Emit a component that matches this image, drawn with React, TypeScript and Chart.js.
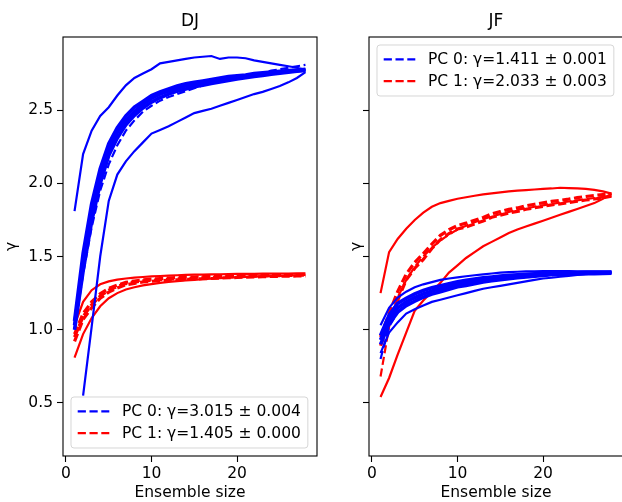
import React, { useEffect, useRef } from 'react';
import { Chart, registerables } from 'chart.js';

Chart.register(...registerables);

const FONT = "'DejaVu Sans', 'Liberation Sans', sans-serif";
const FS = 15.5;
const TITLE_FS = 17;

// ---------- data ----------
const ensembleSizes = [1, 2, 3, 4, 5, 6, 7, 8, 9, 10, 11, 12, 13, 14, 15, 16, 17, 18, 19, 20, 21, 22, 23, 24, 25, 26, 27, 28];
const xTicks = [0, 10, 20];
const yTicks = [0.5, 1.0, 1.5, 2.0, 2.5];

// DJ panel — PC 0 (blue)
const djBlueBandHi = [1.06, 1.52, 1.86, 2.1, 2.27, 2.38, 2.46, 2.52, 2.56, 2.6, 2.625, 2.645, 2.665, 2.68, 2.69, 2.7, 2.71, 2.72, 2.73, 2.735, 2.74, 2.75, 2.755, 2.76, 2.765, 2.77, 2.775, 2.78];
const djBlueBandMid = [1.03, 1.46, 1.8, 2.05, 2.23, 2.35, 2.43, 2.49, 2.54, 2.58, 2.61, 2.63, 2.65, 2.665, 2.675, 2.685, 2.695, 2.705, 2.715, 2.723, 2.73, 2.74, 2.745, 2.752, 2.758, 2.764, 2.77, 2.775];
const djBlueBandLo = [1.0, 1.4, 1.74, 2.0, 2.19, 2.31, 2.4, 2.465, 2.515, 2.555, 2.585, 2.61, 2.63, 2.645, 2.66, 2.67, 2.683, 2.693, 2.703, 2.713, 2.721, 2.731, 2.737, 2.746, 2.752, 2.76, 2.766, 2.771];
const djBlueUpper = [1.81, 2.2, 2.36, 2.46, 2.52, 2.6, 2.67, 2.72, 2.75, 2.78, 2.82, 2.83, 2.84, 2.85, 2.86, 2.865, 2.87, 2.85, 2.86, 2.86, 2.855, 2.84, 2.83, 2.82, 2.81, 2.8, 2.79, 2.775];
const djBlueLower = [null, 0.55, 1.02, 1.5, 1.88, 2.06, 2.15, 2.22, 2.28, 2.34, 2.365, 2.39, 2.42, 2.45, 2.48, 2.495, 2.51, 2.53, 2.55, 2.57, 2.59, 2.61, 2.625, 2.645, 2.665, 2.69, 2.72, 2.76];
const djBlueFit = [1.0, 1.38, 1.7, 1.95, 2.13, 2.26, 2.36, 2.43, 2.49, 2.53, 2.565, 2.59, 2.61, 2.63, 2.65, 2.67, 2.685, 2.7, 2.71, 2.72, 2.735, 2.745, 2.755, 2.77, 2.78, 2.79, 2.8, 2.81];

// DJ panel — PC 1 (red)
const djRedBandHi = [0.97, 1.11, 1.19, 1.245, 1.283, 1.305, 1.323, 1.333, 1.34, 1.345, 1.35, 1.353, 1.356, 1.358, 1.36, 1.362, 1.364, 1.366, 1.368, 1.369, 1.371, 1.372, 1.373, 1.374, 1.375, 1.376, 1.377, 1.378];
const djRedBandLo = [0.92, 1.07, 1.15, 1.215, 1.257, 1.285, 1.307, 1.317, 1.326, 1.331, 1.335, 1.338, 1.341, 1.343, 1.346, 1.348, 1.35, 1.353, 1.355, 1.357, 1.359, 1.36, 1.362, 1.364, 1.365, 1.366, 1.367, 1.368];
const djRedUpper = [1.03, 1.19, 1.27, 1.31, 1.33, 1.342, 1.35, 1.356, 1.36, 1.364, 1.367, 1.37, 1.372, 1.374, 1.376, 1.377, 1.378, 1.379, 1.38, 1.381, 1.382, 1.382, 1.383, 1.383, 1.384, 1.384, 1.385, 1.385];
const djRedLower = [0.81, 0.97, 1.08, 1.16, 1.215, 1.25, 1.275, 1.29, 1.303, 1.312, 1.32, 1.326, 1.332, 1.337, 1.341, 1.345, 1.349, 1.352, 1.355, 1.358, 1.36, 1.362, 1.364, 1.366, 1.368, 1.37, 1.372, 1.375];
const djRedFit = [0.95, 1.09, 1.17, 1.23, 1.27, 1.295, 1.315, 1.325, 1.333, 1.338, 1.342, 1.345, 1.348, 1.35, 1.353, 1.355, 1.357, 1.36, 1.362, 1.363, 1.365, 1.366, 1.368, 1.369, 1.37, 1.371, 1.372, 1.373];

// JF panel — PC 0 (blue)
const jfBlueBandHi = [0.96, 1.1, 1.18, 1.215, 1.245, 1.268, 1.287, 1.3, 1.314, 1.327, 1.337, 1.346, 1.354, 1.36, 1.366, 1.371, 1.375, 1.379, 1.382, 1.385, 1.387, 1.389, 1.39, 1.391, 1.392, 1.393, 1.393, 1.394];
const jfBlueBandMid = [0.93, 1.07, 1.15, 1.19, 1.22, 1.245, 1.265, 1.28, 1.295, 1.31, 1.32, 1.33, 1.34, 1.347, 1.354, 1.36, 1.365, 1.37, 1.374, 1.378, 1.381, 1.383, 1.385, 1.386, 1.387, 1.388, 1.389, 1.39];
const jfBlueBandLo = [0.9, 1.04, 1.12, 1.165, 1.195, 1.222, 1.243, 1.26, 1.276, 1.293, 1.303, 1.314, 1.326, 1.334, 1.342, 1.349, 1.355, 1.361, 1.366, 1.371, 1.375, 1.377, 1.38, 1.381, 1.382, 1.383, 1.385, 1.386];
const jfBlueUpper = [1.03, 1.15, 1.22, 1.26, 1.29, 1.31, 1.325, 1.34, 1.35, 1.358, 1.365, 1.372, 1.378, 1.384, 1.39, 1.394, 1.396, 1.398, 1.399, 1.4, 1.4, 1.4, 1.4, 1.399, 1.399, 1.398, 1.398, 1.397];
const jfBlueLower = [0.84, 0.98, 1.05, 1.11, 1.14, 1.165, 1.19, 1.205, 1.22, 1.235, 1.25, 1.265, 1.28, 1.29, 1.3, 1.31, 1.32, 1.33, 1.34, 1.35, 1.355, 1.362, 1.368, 1.374, 1.38, 1.384, 1.387, 1.389];
const jfBlueFit = [0.8, 1.02, 1.12, 1.18, 1.215, 1.24, 1.26, 1.275, 1.29, 1.3, 1.31, 1.32, 1.328, 1.335, 1.342, 1.35, 1.355, 1.36, 1.365, 1.37, 1.373, 1.376, 1.379, 1.382, 1.384, 1.386, 1.388, 1.39];

// JF panel — PC 1 (red)
const jfRedBandHi = [0.95, 1.11, 1.26, 1.38, 1.46, 1.52, 1.585, 1.645, 1.683, 1.712, 1.728, 1.748, 1.767, 1.792, 1.807, 1.822, 1.832, 1.847, 1.857, 1.867, 1.877, 1.884, 1.892, 1.902, 1.91, 1.917, 1.923, 1.928];
const jfRedBandLo = [0.89, 1.05, 1.2, 1.34, 1.42, 1.48, 1.555, 1.615, 1.657, 1.688, 1.702, 1.722, 1.743, 1.768, 1.783, 1.798, 1.808, 1.823, 1.833, 1.843, 1.853, 1.86, 1.868, 1.878, 1.886, 1.893, 1.901, 1.912];
const jfRedUpper = [1.25, 1.53, 1.62, 1.69, 1.75, 1.8, 1.84, 1.865, 1.88, 1.895, 1.905, 1.915, 1.925, 1.932, 1.938, 1.945, 1.95, 1.954, 1.958, 1.962, 1.965, 1.97, 1.968, 1.965, 1.962, 1.955, 1.945, 1.93];
const jfRedLower = [0.54, 0.67, 0.83, 0.98, 1.13, 1.2, 1.26, 1.32, 1.39, 1.44, 1.49, 1.53, 1.57, 1.6, 1.63, 1.66, 1.685, 1.705, 1.725, 1.745, 1.765, 1.785, 1.805, 1.825, 1.845, 1.865, 1.895, 1.93];
const jfRedFit = [0.68, 1.02, 1.22, 1.34, 1.43, 1.5, 1.56, 1.61, 1.65, 1.685, 1.71, 1.735, 1.755, 1.775, 1.79, 1.805, 1.82, 1.83, 1.84, 1.85, 1.86, 1.868, 1.876, 1.884, 1.892, 1.9, 1.907, 1.914];

const djLegendLabels = ['PC 0: γ=3.015 ± 0.004', 'PC 1: γ=1.405 ± 0.000'];
const jfLegendLabels = ['PC 0: γ=1.411 ± 0.001', 'PC 1: γ=2.033 ± 0.003'];

const BLUE = '#0000ff';
const RED = '#ff0000';
const LW = 2.2;
const BAND_LW = 3.6;
const RED_BAND_LW = 3.2;
const DASH = [8.2, 3.6];

function line(ys: (number | null)[], color: string, dash: number[] = [], width = LW) {
  return {
    data: ensembleSizes.map((x, i) => ({ x, y: ys[i] })),
    borderColor: color,
    backgroundColor: color,
    borderWidth: width,
    borderDash: dash,
    pointRadius: 0,
    pointHoverRadius: 0,
    fill: false,
    tension: 0,
    spanGaps: false,
  };
}

function framePlugin() {
  return {
    id: 'frame',
    afterDatasetsDraw(chart: any) {
      const { ctx, chartArea: a } = chart;
      ctx.save();
      ctx.strokeStyle = '#000';
      ctx.lineWidth = 1.1;
      ctx.strokeRect(a.left, a.top, a.right - a.left, a.bottom - a.top);
      ctx.restore();
    },
  };
}

function legendPlugin(labels: string[], colors: string[], loc: 'lower left' | 'upper left') {
  return {
    id: 'mplLegend',
    afterDraw(chart: any) {
      const { ctx, chartArea: a } = chart;
      ctx.save();
      ctx.font = `${FS}px ${FONT}`;
      const textW = Math.max(...labels.map((l) => ctx.measureText(l).width));
      const w = 51 + textW + 7;
      const h = 51;
      const x = a.left + 8;
      const y = loc === 'lower left' ? a.bottom - 8 - h : a.top + 8;
      const r = 3;
      ctx.beginPath();
      ctx.moveTo(x + r, y);
      ctx.lineTo(x + w - r, y);
      ctx.arcTo(x + w, y, x + w, y + r, r);
      ctx.lineTo(x + w, y + h - r);
      ctx.arcTo(x + w, y + h, x + w - r, y + h, r);
      ctx.lineTo(x + r, y + h);
      ctx.arcTo(x, y + h, x, y + h - r, r);
      ctx.lineTo(x, y + r);
      ctx.arcTo(x, y, x + r, y, r);
      ctx.closePath();
      ctx.fillStyle = 'rgba(255,255,255,0.8)';
      ctx.fill();
      ctx.strokeStyle = 'rgba(204,204,204,0.8)';
      ctx.lineWidth = 1;
      ctx.stroke();
      labels.forEach((label, i) => {
        const cy = y + 14.4 + i * 21.8;
        ctx.beginPath();
        ctx.setLineDash(DASH);
        ctx.strokeStyle = colors[i];
        ctx.lineWidth = LW;
        ctx.moveTo(x + 6.7, cy);
        ctx.lineTo(x + 38.3, cy);
        ctx.stroke();
        ctx.setLineDash([]);
        ctx.fillStyle = '#000';
        ctx.textAlign = 'left';
        ctx.textBaseline = 'middle';
        ctx.fillText(label, x + 51, cy + 1);
      });
      ctx.restore();
    },
  };
}

function makeConfig(opts: {
  title: string;
  datasets: any[];
  legendLabels: string[];
  legendLoc: 'lower left' | 'upper left';
  showYLabels: boolean;
  yAxisWidth: number;
  yTitlePad: number;
  padRight: number;
}): any {
  const font = { family: FONT, size: FS };
  return {
    type: 'line',
    data: { datasets: opts.datasets },
    options: {
      responsive: false,
      animation: false,
      devicePixelRatio: 1,
      events: [],
      layout: { padding: { top: 0, left: 0, bottom: 0, right: opts.padRight } },
      plugins: {
        legend: { display: false },
        tooltip: { enabled: false },
        title: {
          display: true,
          text: opts.title,
          fullSize: false,
          color: '#000',
          font: { family: FONT, size: TITLE_FS, weight: 'normal' },
          padding: { top: 11, bottom: 5.6 },
        },
      },
      scales: {
        x: {
          type: 'linear',
          min: -0.35,
          max: 29.35,
          afterBuildTicks: (s: any) => {
            s.ticks = xTicks.map((v) => ({ value: v }));
          },
          afterFit: (s: any) => {
            s.height = 46;
          },
          ticks: {
            font,
            color: '#000',
            padding: 3,
            maxRotation: 0,
            autoSkip: false,
            callback: (v: any) => String(v),
          },
          grid: {
            display: true,
            drawOnChartArea: false,
            drawTicks: true,
            tickLength: 6,
            color: '#000',
            tickWidth: 1.1,
          },
          border: { display: false },
          title: {
            display: true,
            text: 'Ensemble size',
            color: '#000',
            font,
            padding: { top: 0, bottom: 0 },
          },
        },
        y: {
          type: 'linear',
          min: 0.137,
          max: 3.0,
          afterBuildTicks: (s: any) => {
            s.ticks = yTicks.map((v) => ({ value: v }));
          },
          afterFit: (s: any) => {
            s.width = opts.yAxisWidth;
          },
          ticks: {
            font,
            color: '#000',
            padding: 4,
            autoSkip: false,
            callback: (v: any) => (opts.showYLabels ? Number(v).toFixed(1) : ''),
          },
          grid: {
            display: true,
            drawOnChartArea: false,
            drawTicks: true,
            tickLength: 6,
            color: '#000',
            tickWidth: 1.1,
          },
          border: { display: false },
          title: {
            display: true,
            text: 'γ',
            color: '#000',
            font,
            padding: { top: opts.yTitlePad, bottom: 0 },
          },
        },
      },
    },
    plugins: [framePlugin(), legendPlugin(opts.legendLabels, [BLUE, RED], opts.legendLoc)],
  };
}

export default function App() {
  const leftRef = useRef<HTMLCanvasElement>(null);
  const rightRef = useRef<HTMLCanvasElement>(null);

  useEffect(() => {
    const djDatasets = [
      line(djBlueBandHi, BLUE, [], BAND_LW),
      line(djBlueBandMid, BLUE, [], BAND_LW),
      line(djBlueBandLo, BLUE, [], BAND_LW),
      line(djBlueUpper, BLUE),
      line(djBlueLower, BLUE),
      line(djBlueFit, BLUE, DASH),
      line(djRedBandHi, RED, DASH, RED_BAND_LW),
      line(djRedBandLo, RED, DASH, RED_BAND_LW),
      line(djRedUpper, RED),
      line(djRedLower, RED),
      line(djRedFit, RED, DASH, RED_BAND_LW),
    ];
    const jfDatasets = [
      line(jfBlueBandHi, BLUE, [], BAND_LW),
      line(jfBlueBandMid, BLUE, [], BAND_LW),
      line(jfBlueBandLo, BLUE, [], BAND_LW),
      line(jfBlueUpper, BLUE),
      line(jfBlueLower, BLUE),
      line(jfBlueFit, BLUE, DASH),
      line(jfRedBandHi, RED, DASH, RED_BAND_LW),
      line(jfRedBandLo, RED, DASH, RED_BAND_LW),
      line(jfRedUpper, RED),
      line(jfRedLower, RED),
      line(jfRedFit, RED, DASH),
    ];
    const c1 = new Chart(
      leftRef.current as HTMLCanvasElement,
      makeConfig({
        title: 'DJ',
        datasets: djDatasets,
        legendLabels: djLegendLabels,
        legendLoc: 'lower left',
        showYLabels: true,
        yAxisWidth: 63,
        yTitlePad: 3,
        padRight: 23,
      })
    );
    const c2 = new Chart(
      rightRef.current as HTMLCanvasElement,
      makeConfig({
        title: 'JF',
        datasets: jfDatasets,
        legendLabels: jfLegendLabels,
        legendLoc: 'upper left',
        showYLabels: false,
        yAxisWidth: 29,
        yTitlePad: 7.7,
        padRight: 7,
      })
    );
    return () => {
      c1.destroy();
      c2.destroy();
    };
  }, []);

  return (
    <div
      style={{
        position: 'fixed',
        left: 0,
        top: 0,
        width: 622,
        height: 502,
        overflow: 'hidden',
        background: '#fff',
      }}
    >
      <canvas
        ref={leftRef}
        width={340}
        height={502}
        style={{ position: 'absolute', left: 0, top: 0, width: 340, height: 502 }}
      />
      <canvas
        ref={rightRef}
        width={290}
        height={502}
        style={{ position: 'absolute', left: 340, top: 0, width: 290, height: 502 }}
      />
    </div>
  );
}
